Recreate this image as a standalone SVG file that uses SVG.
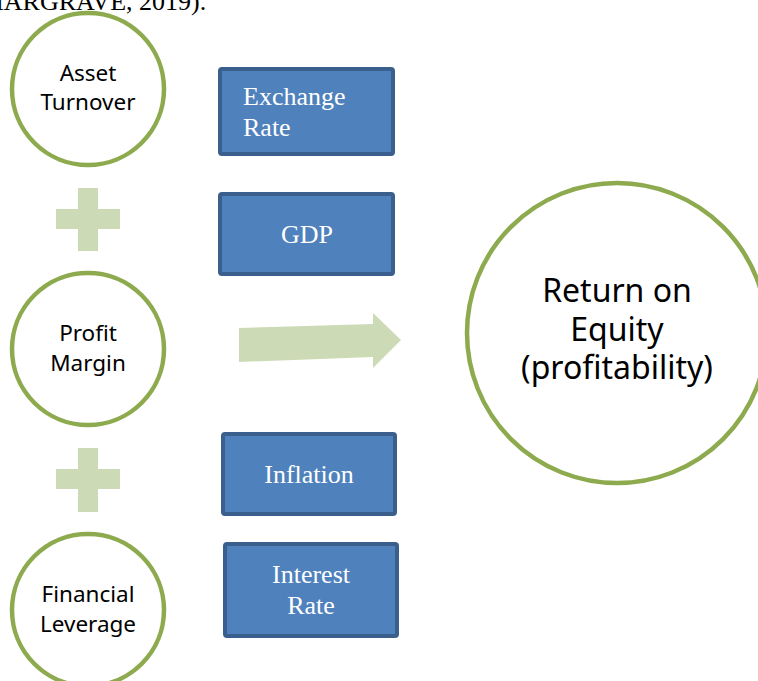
<svg xmlns="http://www.w3.org/2000/svg" width="758" height="681" viewBox="0 0 758 681">
<style>
.c{fill:#fff;stroke:#8DAB4E;stroke-width:4.5}
.b{fill:#4F81BD;stroke:#3A5F8D;stroke-width:4}
.ct{font-family:"Noto Sans","Open Sans",sans-serif;font-size:22.5px;fill:#000;text-anchor:middle}
.bt{font-family:"Liberation Serif","Times New Roman",serif;font-size:26px;fill:#fff}
.pl{fill:#CDDAB6}
</style>
<rect width="758" height="681" fill="#fff"/>
<text x="-15" y="10" font-family="Liberation Serif, serif" font-size="26">HARGRAVE, 2019).</text>
<g id="asset-turnover"><circle class="c" cx="88" cy="89" r="76"/><text class="ct" x="88" y="81">Asset</text><text class="ct" x="88" y="110">Turnover</text></g>
<g id="plus-1" class="pl"><rect x="78" y="188" width="20" height="63"/><rect x="56" y="209" width="64" height="20"/></g>
<g id="profit-margin"><circle class="c" cx="88" cy="349" r="76"/><text class="ct" x="88" y="341">Profit</text><text class="ct" x="88" y="371">Margin</text></g>
<g id="plus-2" class="pl"><rect x="78" y="448" width="20" height="64"/><rect x="56" y="469" width="64" height="20"/></g>
<g id="financial-leverage"><circle class="c" cx="88" cy="610" r="76"/><text class="ct" x="88" y="602">Financial</text><text class="ct" x="88" y="632">Leverage</text></g>
<g id="exchange-rate"><rect class="b" x="220" y="69" width="173" height="85" rx="2"/><text class="bt" x="243" y="105">Exchange</text><text class="bt" x="243" y="136">Rate</text></g>
<g id="gdp"><rect class="b" x="220" y="194" width="173" height="80" rx="2"/><text class="bt" x="307" y="243" text-anchor="middle">GDP</text></g>
<g id="inflation"><rect class="b" x="223" y="434" width="172" height="80" rx="2"/><text class="bt" x="309" y="483" text-anchor="middle">Inflation</text></g>
<g id="interest-rate"><rect class="b" x="225" y="544" width="172" height="92" rx="2"/><text class="bt" x="311" y="583" text-anchor="middle">Interest</text><text class="bt" x="311" y="614" text-anchor="middle">Rate</text></g>
<g id="connectors"><polygon fill="#CDDAB6" points="239,328 373,324 373,313 401,340 373,368 373,357 239,362"/></g>
<g id="roe"><circle class="c" cx="617" cy="333" r="150"/><g style="font-family:'Noto Sans','Open Sans',sans-serif;font-size:32px;text-anchor:middle"><text x="617" y="302">Return on</text><text x="617" y="341">Equity</text><text x="617" y="379">(profitability)</text></g></g>
</svg>
